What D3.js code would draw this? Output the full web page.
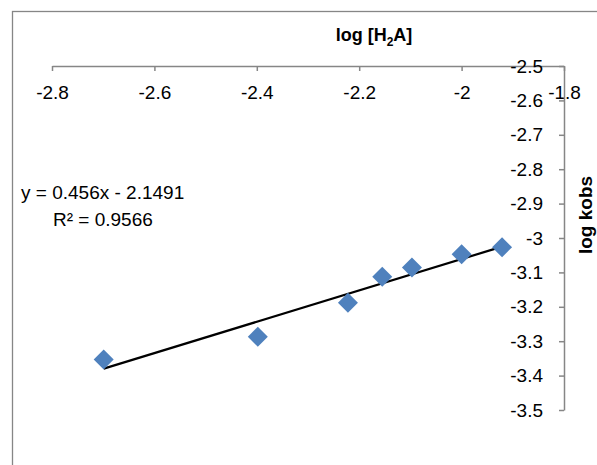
<!DOCTYPE html>
<html>
<head>
<meta charset="utf-8">
<script src="https://cdn.jsdelivr.net/npm/d3@7"></script>
<style>
  body { margin: 0; background: #fff; }
  svg { display: block; font-family: "Liberation Sans", Arial, sans-serif; }
</style>
</head>
<body>
<div id="chart"></div>
<script>
// log [H2A] vs log kobs
var logH2A = [-2.699, -2.398, -2.222, -2.155, -2.097, -2.0, -1.921];
var logKobs = [-3.353, -3.287, -3.188, -3.113, -3.086, -3.047, -3.027];
var xTicks = [-2.8, -2.6, -2.4, -2.2, -2, -1.8];
var yTicks = [-2.5, -2.6, -2.7, -2.8, -2.9, -3, -3.1, -3.2, -3.3, -3.4, -3.5];
var slope = 0.456,
    intercept = -2.1491,
    r2 = 0.9566;

var width = 597,
    height = 465,
    _grey = "#868686",
    _blue = "#4F81BD";

var svg = d3.select("#chart")
    .append("svg")
    .attr("width", width)
    .attr("height", height);

// outer chart frame (runs off the right and bottom edges)
svg.append("rect")
    .attr("x", 12.5)
    .attr("y", 11.5)
    .attr("width", 700)
    .attr("height", 600)
    .style("fill", "none")
    .style("stroke", _grey)
    .style("stroke-width", 1.3);

var x = d3.scaleLinear()
    .domain([-2.8, -1.8])
    .range([52, 564]);

var y = d3.scaleLinear()
    .domain([-2.5, -3.5])
    .range([66, 410]);

// x axis sits at the top (y = -2.5)
var gx = svg.append("g")
    .attr("transform", `translate(0,${y(-2.5)})`)
    .call(d3.axisBottom(x)
        .tickValues(xTicks)
        .tickSize(5)
        .tickSizeOuter(0)
        .tickPadding(15)
        .tickFormat(function(d) { return d3.format("")(d).replace("−", "-"); }));

// y axis sits on the right (x = -1.8)
var gy = svg.append("g")
    .attr("transform", `translate(${x(-1.8)},0)`)
    .call(d3.axisLeft(y)
        .tickValues(yTicks)
        .tickSize(5)
        .tickSizeOuter(0)
        .tickPadding(16)
        .tickFormat(function(d) { return d3.format("")(d).replace("−", "-"); }));

[gx, gy].forEach(function(g) {
    g.select(".domain").style("stroke", _grey).style("stroke-width", 1.5);
    g.selectAll(".tick line").style("stroke", _grey).style("stroke-width", 1.5);
    g.selectAll(".tick text")
        .style("font-family", "Liberation Sans, Arial, sans-serif")
        .style("font-size", "19px")
        .style("fill", "#000");
});

// trendline from min x to max x
var xExt = d3.extent(logH2A);
svg.append("path")
    .datum(xExt.map(function(v) { return [v, slope * v + intercept]; }))
    .attr("d", d3.line()
        .x(function(d) { return x(d[0]); })
        .y(function(d) { return y(d[1]); }))
    .style("fill", "none")
    .style("stroke", "#000")
    .style("stroke-width", 2.2);

// diamonds
svg.selectAll("myPoint")
    .data(logH2A)
    .enter()
    .append("path")
    .attr("d", d3.symbol(d3.symbolSquare, 200))
    .attr("transform", function(d, i) {
        return `translate(${x(d)},${y(logKobs[i])}) rotate(45)`;
    })
    .style("fill", _blue);

// axis titles
var title = svg.append("text")
    .attr("x", 374)
    .attr("y", 41)
    .style("text-anchor", "middle")
    .style("font-weight", "bold")
    .style("font-size", "18px");
title.append("tspan").text("log [H");
title.append("tspan").attr("dy", 5).style("font-size", "12px").text("2");
title.append("tspan").attr("dy", -5).text("A]");

svg.append("text")
    .attr("transform", "translate(592,215) rotate(-90)")
    .style("text-anchor", "middle")
    .style("font-weight", "bold")
    .style("font-size", "19px")
    .text("log kobs");

// trendline label
svg.append("text")
    .attr("x", 21)
    .attr("y", 199)
    .style("font-size", "19px")
    .text("y = " + slope + "x - " + Math.abs(intercept));

svg.append("text")
    .attr("x", 53)
    .attr("y", 226)
    .style("font-size", "19px")
    .text("R² = " + r2);
</script>
</body>
</html>
